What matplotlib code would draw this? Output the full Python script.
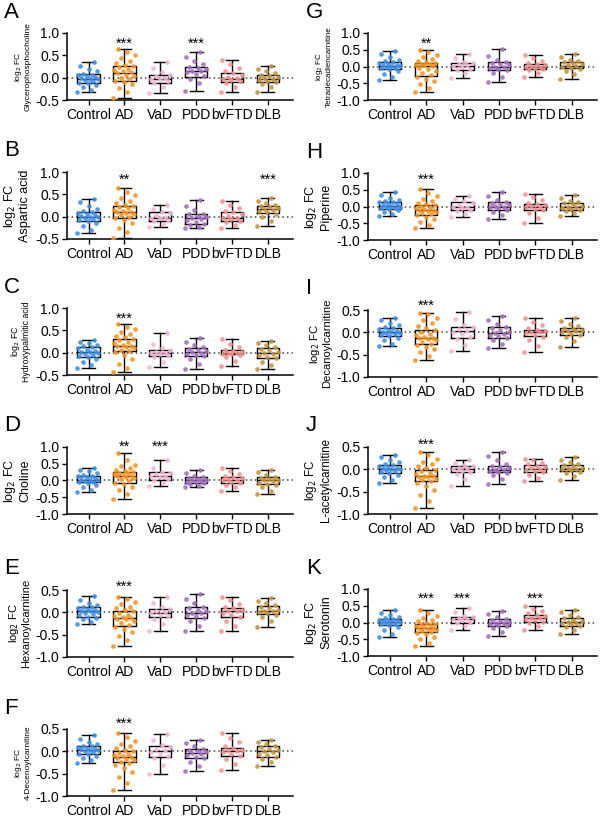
import matplotlib
matplotlib.use('Agg')
import matplotlib.pyplot as plt
import matplotlib.transforms as mtransforms
from matplotlib.ticker import FormatStrFormatter
import numpy as np

plt.rcParams['font.family'] = ['Liberation Sans', 'DejaVu Sans']
plt.rcParams['axes.unicode_minus'] = False

groups = ['Control', 'AD', 'VaD', 'PDD', 'bvFTD', 'DLB']
colors = ['#3f8fe6', '#f7931e', '#f5b5d4', '#a46fc0', '#f58f8f', '#c69440']

# box stats per group: [min, q1, median, q3, max]
# A - Glycerophosphocholine
A_box = [[-0.33, -0.13, -0.02, 0.08, 0.35], [-0.45, -0.07, 0.11, 0.25, 0.65], [-0.34, -0.11, -0.02, 0.06, 0.34],
         [-0.29, 0.02, 0.15, 0.23, 0.57], [-0.31, -0.10, -0.02, 0.10, 0.40], [-0.32, -0.10, -0.03, 0.06, 0.26]]
A_points = [
    [-0.33, -0.28, -0.22, -0.17, -0.13, -0.11, -0.08, -0.05, -0.03, -0.02, -0.01, 0.01, 0.03, 0.05, 0.07, 0.09, 0.14, 0.2, 0.27, 0.35],
    [-0.45, -0.33, -0.24, -0.15, -0.1, -0.07, -0.03, 0.0, 0.04, 0.07, 0.1, 0.12, 0.14, 0.17, 0.2, 0.23, 0.25, 0.29, 0.33, 0.38, 0.44, 0.5, 0.58, 0.65],
    [-0.34, -0.22, -0.12, -0.08, -0.04, -0.02, 0.0, 0.03, 0.06, 0.12, 0.22, 0.34],
    [-0.29, -0.12, -0.02, 0.03, 0.08, 0.12, 0.15, 0.16, 0.19, 0.22, 0.24, 0.3, 0.38, 0.47, 0.57],
    [-0.31, -0.2, -0.12, -0.08, -0.05, -0.02, -0.01, 0.02, 0.06, 0.1, 0.15, 0.22, 0.3, 0.4],
    [-0.32, -0.22, -0.15, -0.1, -0.07, -0.05, -0.03, -0.01, 0.01, 0.04, 0.06, 0.1, 0.15, 0.2, 0.26]]
A_sig = ['', '***', '', '***', '', '']

# B - Aspartic acid
B_box = [[-0.37, -0.09, 0.0, 0.11, 0.40], [-0.47, -0.03, 0.10, 0.23, 0.64], [-0.24, -0.10, -0.03, 0.10, 0.26],
         [-0.26, -0.17, -0.03, 0.06, 0.38], [-0.26, -0.09, -0.02, 0.11, 0.34], [-0.22, 0.08, 0.17, 0.25, 0.42]]
B_points = [
    [-0.37, -0.3, -0.22, -0.15, -0.09, -0.07, -0.05, -0.03, -0.01, 0.0, 0.01, 0.03, 0.05, 0.08, 0.11, 0.13, 0.18, 0.25, 0.32, 0.4],
    [-0.47, -0.35, -0.25, -0.15, -0.08, -0.03, 0.0, 0.03, 0.06, 0.08, 0.1, 0.11, 0.13, 0.16, 0.19, 0.21, 0.23, 0.27, 0.31, 0.36, 0.42, 0.48, 0.56, 0.64],
    [-0.24, -0.16, -0.1, -0.07, -0.04, -0.03, -0.01, 0.03, 0.08, 0.11, 0.18, 0.26],
    [-0.26, -0.23, -0.19, -0.16, -0.12, -0.08, -0.05, -0.03, -0.01, 0.02, 0.05, 0.07, 0.14, 0.25, 0.38],
    [-0.26, -0.18, -0.12, -0.09, -0.06, -0.03, -0.02, 0.01, 0.06, 0.1, 0.13, 0.19, 0.26, 0.34],
    [-0.22, -0.1, 0.0, 0.06, 0.1, 0.13, 0.15, 0.17, 0.19, 0.21, 0.24, 0.27, 0.31, 0.36, 0.42]]
B_sig = ['', '**', '', '', '', '***']

# C - Hydroxypalmitic acid
C_box = [[-0.34, -0.10, 0.01, 0.12, 0.29], [-0.44, 0.04, 0.16, 0.31, 0.64], [-0.31, -0.07, 0.0, 0.07, 0.44],
         [-0.37, -0.07, 0.01, 0.10, 0.32], [-0.29, -0.04, -0.01, 0.05, 0.31], [-0.37, -0.12, -0.01, 0.10, 0.27]]
C_points = [
    [-0.34, -0.27, -0.2, -0.15, -0.1, -0.08, -0.05, -0.03, -0.01, 0.01, 0.02, 0.04, 0.07, 0.1, 0.12, 0.14, 0.17, 0.21, 0.25, 0.29],
    [-0.44, -0.35, -0.25, -0.15, -0.05, 0.02, 0.04, 0.07, 0.1, 0.13, 0.15, 0.16, 0.18, 0.21, 0.25, 0.28, 0.31, 0.34, 0.38, 0.42, 0.47, 0.52, 0.58, 0.64],
    [-0.31, -0.2, -0.1, -0.06, -0.03, -0.01, 0.0, 0.02, 0.05, 0.1, 0.2, 0.44],
    [-0.37, -0.25, -0.15, -0.08, -0.05, -0.02, 0.0, 0.01, 0.03, 0.06, 0.09, 0.12, 0.18, 0.25, 0.32],
    [-0.29, -0.18, -0.1, -0.05, -0.03, -0.02, -0.01, 0.0, 0.02, 0.04, 0.07, 0.12, 0.2, 0.31],
    [-0.37, -0.28, -0.2, -0.13, -0.09, -0.05, -0.02, -0.01, 0.02, 0.05, 0.09, 0.12, 0.17, 0.22, 0.27]]
C_sig = ['', '***', '', '', '', '']

# D - Choline
D_box = [[-0.34, -0.05, 0.0, 0.14, 0.36], [-0.55, -0.08, 0.14, 0.24, 0.83], [-0.16, 0.02, 0.12, 0.24, 0.60],
         [-0.20, -0.08, 0.0, 0.09, 0.31], [-0.30, -0.08, 0.02, 0.09, 0.36], [-0.39, -0.10, 0.0, 0.09, 0.31]]
D_points = [
    [-0.34, -0.27, -0.2, -0.12, -0.06, -0.04, -0.03, -0.01, 0.0, 0.01, 0.03, 0.06, 0.09, 0.12, 0.14, 0.17, 0.22, 0.27, 0.32, 0.36],
    [-0.55, -0.4, -0.28, -0.18, -0.1, -0.06, -0.02, 0.03, 0.07, 0.1, 0.13, 0.14, 0.16, 0.18, 0.21, 0.23, 0.25, 0.28, 0.32, 0.37, 0.42, 0.47, 0.6, 0.83],
    [-0.16, -0.08, 0.01, 0.05, 0.09, 0.12, 0.14, 0.18, 0.22, 0.26, 0.38, 0.6],
    [-0.2, -0.15, -0.11, -0.08, -0.05, -0.03, -0.01, 0.0, 0.02, 0.04, 0.07, 0.09, 0.14, 0.22, 0.31],
    [-0.3, -0.2, -0.12, -0.08, -0.04, 0.0, 0.02, 0.03, 0.06, 0.09, 0.13, 0.2, 0.28, 0.36],
    [-0.39, -0.3, -0.2, -0.13, -0.09, -0.06, -0.02, 0.0, 0.02, 0.05, 0.08, 0.11, 0.17, 0.24, 0.31]]
D_sig = ['', '**', '***', '', '', '']

# E - Hexanoylcarnitine
E_box = [[-0.27, -0.10, 0.02, 0.11, 0.37], [-0.75, -0.31, -0.13, 0.02, 0.35], [-0.42, -0.10, -0.01, 0.08, 0.34],
         [-0.42, -0.12, -0.01, 0.13, 0.40], [-0.42, -0.11, 0.02, 0.10, 0.35], [-0.32, -0.04, 0.04, 0.14, 0.32]]
E_points = [
    [-0.27, -0.22, -0.16, -0.12, -0.1, -0.07, -0.04, -0.02, 0.0, 0.02, 0.03, 0.05, 0.07, 0.09, 0.11, 0.13, 0.17, 0.22, 0.28, 0.37],
    [-0.75, -0.62, -0.52, -0.44, -0.37, -0.32, -0.28, -0.24, -0.2, -0.16, -0.14, -0.13, -0.11, -0.08, -0.05, -0.02, 0.02, 0.05, 0.09, 0.13, 0.18, 0.23, 0.29, 0.35],
    [-0.42, -0.27, -0.14, -0.09, -0.05, -0.02, 0.0, 0.03, 0.07, 0.12, 0.22, 0.34],
    [-0.42, -0.3, -0.2, -0.13, -0.09, -0.05, -0.02, -0.01, 0.02, 0.06, 0.1, 0.13, 0.2, 0.29, 0.4],
    [-0.42, -0.3, -0.19, -0.11, -0.06, -0.01, 0.02, 0.03, 0.06, 0.09, 0.13, 0.19, 0.27, 0.35],
    [-0.32, -0.2, -0.1, -0.05, -0.02, 0.01, 0.03, 0.04, 0.06, 0.09, 0.13, 0.16, 0.2, 0.26, 0.32]]
E_sig = ['', '***', '', '', '', '']

# F - 4-Decenoylcarnitine
F_box = [[-0.26, -0.07, 0.04, 0.11, 0.36], [-0.87, -0.25, -0.13, 0.0, 0.42], [-0.50, -0.13, 0.0, 0.11, 0.39],
         [-0.43, -0.15, -0.04, 0.05, 0.26], [-0.41, -0.10, 0.01, 0.07, 0.42], [-0.32, -0.13, 0.01, 0.11, 0.26]]
F_points = [
    [-0.26, -0.2, -0.15, -0.1, -0.07, -0.05, -0.02, 0.0, 0.02, 0.04, 0.05, 0.06, 0.08, 0.1, 0.11, 0.13, 0.17, 0.22, 0.28, 0.36],
    [-0.87, -0.7, -0.57, -0.47, -0.38, -0.3, -0.26, -0.23, -0.2, -0.17, -0.14, -0.13, -0.11, -0.09, -0.06, -0.03, 0.0, 0.03, 0.07, 0.12, 0.17, 0.24, 0.33, 0.42],
    [-0.5, -0.3, -0.16, -0.1, -0.05, -0.01, 0.02, 0.06, 0.1, 0.15, 0.26, 0.39],
    [-0.43, -0.33, -0.24, -0.16, -0.12, -0.08, -0.05, -0.04, -0.02, 0.01, 0.04, 0.06, 0.12, 0.19, 0.26],
    [-0.41, -0.28, -0.17, -0.1, -0.06, -0.02, 0.01, 0.02, 0.04, 0.07, 0.12, 0.2, 0.3, 0.42],
    [-0.32, -0.25, -0.18, -0.13, -0.09, -0.05, -0.01, 0.01, 0.03, 0.06, 0.1, 0.13, 0.17, 0.22, 0.26]]
F_sig = ['', '***', '', '', '', '']

# G - Tetradecadiencarnitine
G_box = [[-0.41, -0.06, 0.02, 0.12, 0.47], [-0.76, -0.28, 0.02, 0.09, 0.50], [-0.35, -0.10, 0.02, 0.10, 0.37],
         [-0.45, -0.10, 0.0, 0.12, 0.52], [-0.30, -0.06, 0.0, 0.07, 0.34], [-0.36, -0.05, 0.02, 0.12, 0.37]]
G_points = [
    [-0.41, -0.32, -0.22, -0.13, -0.07, -0.05, -0.03, -0.01, 0.01, 0.02, 0.03, 0.05, 0.08, 0.1, 0.12, 0.15, 0.2, 0.27, 0.36, 0.47],
    [-0.76, -0.64, -0.52, -0.43, -0.36, -0.3, -0.26, -0.2, -0.14, -0.08, -0.03, 0.01, 0.03, 0.04, 0.06, 0.08, 0.1, 0.13, 0.17, 0.22, 0.28, 0.35, 0.42, 0.5],
    [-0.35, -0.2, -0.11, -0.06, -0.02, 0.01, 0.03, 0.06, 0.09, 0.14, 0.24, 0.37],
    [-0.45, -0.3, -0.18, -0.11, -0.07, -0.03, -0.01, 0.0, 0.03, 0.07, 0.1, 0.13, 0.2, 0.32, 0.52],
    [-0.3, -0.18, -0.1, -0.06, -0.03, -0.01, 0.0, 0.01, 0.03, 0.06, 0.09, 0.15, 0.24, 0.34],
    [-0.36, -0.22, -0.12, -0.06, -0.03, 0.0, 0.02, 0.03, 0.06, 0.09, 0.12, 0.15, 0.2, 0.28, 0.37]]
G_sig = ['', '**', '', '', '', '']

# H - Piperine
H_box = [[-0.29, -0.07, 0.01, 0.14, 0.42], [-0.63, -0.24, -0.09, 0.04, 0.52], [-0.31, -0.11, -0.02, 0.13, 0.31],
         [-0.37, -0.09, 0.0, 0.13, 0.42], [-0.48, -0.09, 0.0, 0.08, 0.37], [-0.29, -0.09, -0.02, 0.11, 0.35]]
H_points = [
    [-0.29, -0.23, -0.16, -0.11, -0.07, -0.05, -0.03, -0.01, 0.0, 0.01, 0.03, 0.06, 0.09, 0.12, 0.14, 0.16, 0.2, 0.26, 0.33, 0.42],
    [-0.63, -0.55, -0.46, -0.38, -0.31, -0.26, -0.23, -0.19, -0.15, -0.12, -0.1, -0.09, -0.07, -0.05, -0.02, 0.01, 0.04, 0.07, 0.11, 0.16, 0.22, 0.3, 0.4, 0.52],
    [-0.31, -0.22, -0.13, -0.09, -0.05, -0.02, 0.0, 0.05, 0.1, 0.15, 0.23, 0.31],
    [-0.37, -0.25, -0.15, -0.09, -0.05, -0.02, 0.0, 0.01, 0.04, 0.08, 0.11, 0.14, 0.2, 0.3, 0.42],
    [-0.48, -0.33, -0.2, -0.1, -0.06, -0.02, 0.0, 0.01, 0.04, 0.07, 0.11, 0.18, 0.27, 0.37],
    [-0.29, -0.2, -0.13, -0.09, -0.06, -0.04, -0.02, -0.01, 0.02, 0.06, 0.09, 0.12, 0.17, 0.25, 0.35]]
H_sig = ['', '***', '', '', '', '']

# I - Decanoylcarnitine
I_box = [[-0.31, -0.08, 0.0, 0.09, 0.33], [-0.62, -0.27, -0.12, 0.05, 0.44], [-0.42, -0.12, 0.02, 0.12, 0.46],
         [-0.35, -0.12, -0.02, 0.12, 0.37], [-0.44, -0.09, 0.0, 0.06, 0.33], [-0.32, -0.06, 0.02, 0.10, 0.33]]
I_points = [
    [-0.31, -0.25, -0.18, -0.12, -0.08, -0.06, -0.04, -0.02, -0.01, 0.0, 0.01, 0.03, 0.05, 0.07, 0.09, 0.12, 0.16, 0.21, 0.27, 0.33],
    [-0.62, -0.54, -0.45, -0.38, -0.32, -0.28, -0.25, -0.21, -0.17, -0.14, -0.13, -0.12, -0.1, -0.07, -0.03, 0.01, 0.05, 0.09, 0.14, 0.2, 0.27, 0.33, 0.4, 0.44],
    [-0.42, -0.28, -0.15, -0.1, -0.04, 0.01, 0.03, 0.07, 0.11, 0.17, 0.3, 0.46],
    [-0.35, -0.26, -0.18, -0.12, -0.08, -0.05, -0.03, -0.02, 0.01, 0.05, 0.09, 0.12, 0.18, 0.27, 0.37],
    [-0.44, -0.3, -0.18, -0.1, -0.06, -0.02, 0.0, 0.01, 0.03, 0.06, 0.1, 0.16, 0.24, 0.33],
    [-0.32, -0.2, -0.11, -0.06, -0.03, 0.0, 0.02, 0.03, 0.05, 0.08, 0.1, 0.14, 0.19, 0.26, 0.33]]
I_sig = ['', '***', '', '', '', '']

# J - L-acetylcarnitine
J_box = [[-0.30, -0.08, 0.01, 0.09, 0.33], [-0.86, -0.27, -0.16, -0.01, 0.39], [-0.38, -0.07, 0.01, 0.08, 0.21],
         [-0.33, -0.07, -0.01, 0.08, 0.39], [-0.27, -0.07, 0.01, 0.09, 0.24], [-0.23, -0.04, 0.01, 0.09, 0.27]]
J_points = [
    [-0.3, -0.24, -0.17, -0.12, -0.08, -0.06, -0.04, -0.02, 0.0, 0.01, 0.02, 0.04, 0.06, 0.08, 0.09, 0.12, 0.16, 0.21, 0.27, 0.33],
    [-0.86, -0.7, -0.58, -0.47, -0.38, -0.31, -0.27, -0.24, -0.21, -0.18, -0.17, -0.16, -0.14, -0.11, -0.08, -0.04, -0.01, 0.03, 0.07, 0.12, 0.17, 0.23, 0.31, 0.39],
    [-0.38, -0.22, -0.1, -0.06, -0.03, 0.0, 0.02, 0.04, 0.07, 0.1, 0.15, 0.21],
    [-0.33, -0.22, -0.13, -0.08, -0.05, -0.03, -0.02, -0.01, 0.02, 0.05, 0.08, 0.12, 0.2, 0.3, 0.39],
    [-0.27, -0.19, -0.12, -0.07, -0.04, -0.01, 0.01, 0.02, 0.05, 0.08, 0.11, 0.15, 0.2, 0.24],
    [-0.23, -0.16, -0.09, -0.05, -0.02, 0.0, 0.01, 0.02, 0.04, 0.07, 0.09, 0.12, 0.16, 0.22, 0.27]]
J_sig = ['', '***', '', '', '', '']

# K - Serotonin
K_box = [[-0.43, -0.06, 0.02, 0.09, 0.36], [-0.70, -0.29, -0.16, -0.04, 0.36], [-0.21, -0.01, 0.09, 0.17, 0.44],
         [-0.39, -0.09, -0.01, 0.09, 0.34], [-0.21, 0.01, 0.12, 0.22, 0.50], [-0.33, -0.09, 0.01, 0.12, 0.37]]
K_points = [
    [-0.43, -0.33, -0.22, -0.13, -0.07, -0.05, -0.03, -0.01, 0.01, 0.02, 0.03, 0.04, 0.06, 0.08, 0.09, 0.12, 0.16, 0.21, 0.28, 0.36],
    [-0.7, -0.6, -0.5, -0.42, -0.35, -0.31, -0.28, -0.25, -0.21, -0.18, -0.17, -0.16, -0.14, -0.11, -0.08, -0.05, -0.03, 0.0, 0.04, 0.08, 0.14, 0.2, 0.28, 0.36],
    [-0.21, -0.1, -0.02, 0.02, 0.06, 0.08, 0.1, 0.13, 0.16, 0.2, 0.3, 0.44],
    [-0.39, -0.27, -0.17, -0.1, -0.06, -0.03, -0.02, -0.01, 0.01, 0.04, 0.07, 0.1, 0.16, 0.25, 0.34],
    [-0.21, -0.1, -0.02, 0.02, 0.06, 0.1, 0.12, 0.14, 0.18, 0.22, 0.27, 0.33, 0.41, 0.5],
    [-0.33, -0.22, -0.14, -0.09, -0.05, -0.02, 0.0, 0.01, 0.04, 0.08, 0.12, 0.16, 0.22, 0.3, 0.37]]
K_sig = ['', '***', '***', '', '***', '']

fig = plt.figure(figsize=(6, 8.17), dpi=100)
W, H = 600.0, 817.0

# letter, points, box, sig, metabolite, ylim, label size, star height, column, top px
panels = [
    ('A', A_points, A_box, A_sig, 'Glycerophosphocholine', (-0.5, 1.0), 6, 0.80, 0, 33),
    ('B', B_points, B_box, B_sig, 'Aspartic acid', (-0.5, 1.0), 9, 0.86, 0, 172),
    ('C', C_points, C_box, C_sig, 'Hydroxypalmitic acid', (-0.5, 1.0), 6.3, 0.80, 0, 308),
    ('D', D_points, D_box, D_sig, 'Choline', (-1.0, 1.0), 9, 1.05, 0, 447),
    ('E', E_points, E_box, E_sig, 'Hexanoylcarnitine', (-1.0, 0.5), 8, 0.61, 0, 590),
    ('F', F_points, F_box, F_sig, '4-Decenoylcarnitine', (-1.0, 0.5), 6, 0.65, 0, 729),
    ('G', G_points, G_box, G_sig, 'Tetradecadiencarnitine', (-1.0, 1.0), 5.8, 0.73, 1, 33),
    ('H', H_points, H_box, H_sig, 'Piperine', (-1.0, 1.0), 9, 0.85, 1, 173),
    ('I', I_points, I_box, I_sig, 'Decanoylcarnitine', (-1.0, 0.5), 8.1, 0.64, 1, 310),
    ('J', J_points, J_box, J_sig, 'L-acetylcarnitine', (-1.0, 0.5), 8.3, 0.59, 1, 447),
    ('K', K_points, K_box, K_sig, 'Serotonin', (-1.0, 1.0), 9, 0.76, 1, 589),
]

col_x = [(67, 226), (368, 229)]
ax_h = 67

for letter, pts, box, sig, name, ylim, lsize, star_y, col, top in panels:
    x0, w = col_x[col]
    ax = fig.add_axes([x0 / W, 1 - (top + ax_h) / H, w / W, ax_h / H])

    ax.axhline(0, color='#444444', ls=(0, (1, 2)), lw=1.1, zorder=1)

    stats = []
    for b in box:
        stats.append(dict(whislo=b[0], q1=b[1], med=b[2], q3=b[3], whishi=b[4], fliers=[]))
    lp = dict(color='black', lw=1.0)
    ax.bxp(stats, positions=range(len(groups)), widths=0.62, showfliers=False,
           boxprops=lp, medianprops=lp, whiskerprops=lp, capprops=lp,
           capwidths=0.36, zorder=2)

    # deterministic spread of the dots across the box width
    for i, vals in enumerate(pts):
        n = len(vals)
        offs = (np.arange(n) * 0.618034 % 1.0 - 0.5) * 0.62
        ax.scatter(i + offs, vals, s=11, color=colors[i], zorder=3, linewidths=0, alpha=0.9)

    trans = mtransforms.offset_copy(ax.transData, fig=fig, y=-4, units='points')
    for i, s in enumerate(sig):
        if s:
            ax.text(i, star_y, s, ha='center', va='baseline', fontsize=10.5, transform=trans)

    ax.set_xlim(-0.6, 5.7)
    ax.set_ylim(*ylim)
    ax.set_yticks(np.arange(ylim[0], ylim[1] + 0.01, 0.5))
    ax.yaxis.set_major_formatter(FormatStrFormatter('%.1f'))
    ax.set_xticks(range(len(groups)))
    ax.set_xticklabels(groups)
    ax.tick_params(labelsize=10, width=1.0, length=3.5, pad=2)
    for sp in ['top', 'right']:
        ax.spines[sp].set_visible(False)
    for sp in ['left', 'bottom']:
        ax.spines[sp].set_linewidth(1.1)
    ax.set_ylabel('log$_2$ FC\n' + name, fontsize=lsize, labelpad=3, linespacing=1.1)

    lx = 4 if col == 0 else 306
    fig.text(lx / W, 1 - (top - 21) / H, letter, fontsize=16, va='center', ha='left')

fig.savefig('out.png', dpi=100)
